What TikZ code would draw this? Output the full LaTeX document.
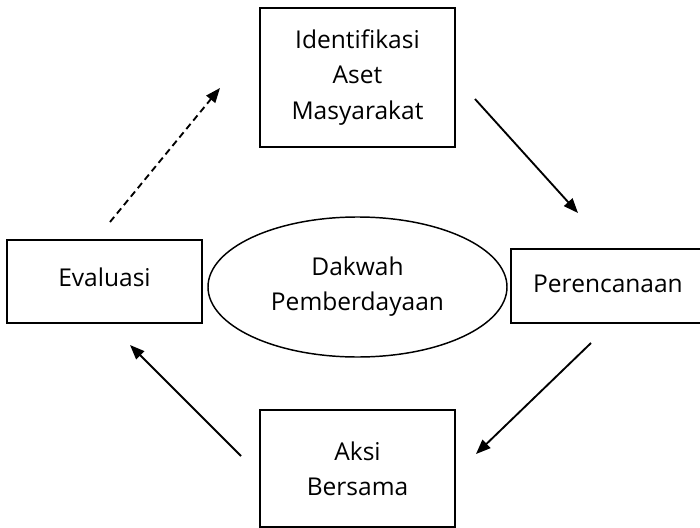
\documentclass[tikz,border=0pt]{standalone}
\usepackage{fontspec}
\setmainfont{Open Sans}
\usetikzlibrary{arrows.meta,shapes.geometric}
\begin{document}
\begin{tikzpicture}[x=0.75pt,y=-0.75pt,
  txt/.style={font={\fontsize{18.4}{26.3}\selectfont}, align=center, inner sep=0pt},
  box/.style={txt, draw, line width=1.4pt, minimum width=146.25pt},
  oval/.style={txt, draw, ellipse, line width=1.1pt, minimum width=224.25pt, minimum height=105pt},
  conn/.style={line width=1.4pt, -{Triangle[length=11pt,width=8.5pt]}},
  dconn/.style={conn, dash pattern=on 5pt off 3.2pt}
]
\useasboundingbox (0,0) rectangle (700,528);
\node[box, minimum height=104.25pt] (ident) at (357.5,77.5) {Identifikasi\\Aset\\Masyarakat};
\node[box, minimum height=62.25pt] (eval) at (104.5,281.5) {\raisebox{7pt}{Evaluasi}};
\node[box, minimum width=162pt, minimum height=55.5pt] (renc) at (619,286) {\raisebox{3pt}{\hspace*{-16.5pt}Perencanaan}};
\node[box, minimum height=87.75pt] (aksi) at (357.5,468.5) {Aksi\\Bersama};
\node[oval] (dakwah) at (357.5,287) {Dakwah\\Pemberdayaan};

\coordinate (a1) at (110,222); \coordinate (b1) at (220,88);
\coordinate (a2) at (475,99);  \coordinate (b2) at (578,213);
\coordinate (a3) at (591,343); \coordinate (b3) at (476,454);
\coordinate (a4) at (241,456); \coordinate (b4) at (130,345);
\draw[dconn] (a1) -- (b1);
\draw[conn] (a2) -- (b2);
\draw[conn] (a3) -- (b3);
\draw[conn] (a4) -- (b4);
\end{tikzpicture}
\end{document}
